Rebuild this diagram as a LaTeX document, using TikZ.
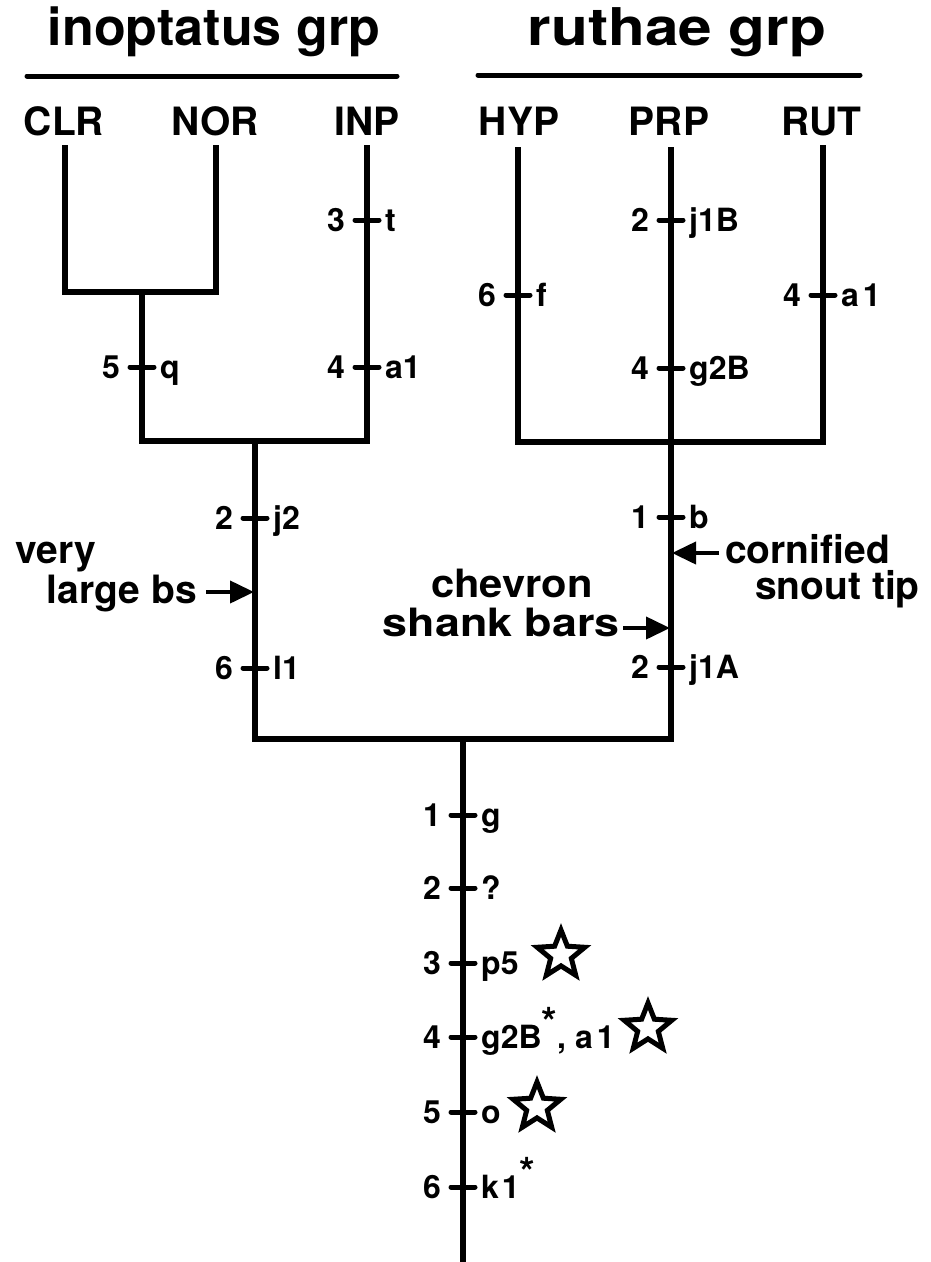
\documentclass[tikz,border=0pt]{standalone}
\usepackage{fontspec}
\setmainfont{TeX Gyre Heros}
\usetikzlibrary{arrows.meta,shapes.geometric}
\begin{document}
\begin{tikzpicture}[x=1pt,y=-1pt,
  branch/.style={line width=5.5pt, line join=miter, line cap=butt},
  rulebar/.style={line width=5pt, line cap=round},
  tickline/.style={line width=5pt, line cap=round},
  titletext/.style={inner sep=0pt, font=\fontsize{52}{60}\selectfont\bfseries},
  taxon/.style={inner sep=0pt, font=\fontsize{39}{46}\selectfont\bfseries},
  ticklab/.style={inner sep=0pt, font=\fontsize{32}{36}\selectfont\bfseries},
  ann/.style={inner sep=0pt, font=\fontsize{39}{46}\selectfont\bfseries},
  annarrow/.style={line width=4pt, -{Triangle[length=24pt,width=22pt]}},
  starmark/.style={draw, star, star points=5, star point ratio=2.3, line width=5pt, minimum size=50pt, inner sep=0pt}
]
\useasboundingbox (0,0) rectangle (930,1262);

\newcommand\charmark[5]{%
  \coordinate (#1) at (#2,#3);
  \draw[tickline] ([xshift=-12pt]#1) -- ([xshift=12pt]#1);
  \node[ticklab, anchor=base east] (#1-l) at ([shift={(-22,11.5)}]#1) {#4};
  \node[ticklab, anchor=base west] (#1-r) at ([shift={(18,11.5)}]#1) {#5};
}
\newcommand\astsup{\raisebox{12pt}{\fontsize{40}{40}\selectfont\bfseries *}}

% group titles
\node[titletext, anchor=base] (inop) at (214,45) {inoptatus grp};
\node[titletext, anchor=base] (ruth) at (677,45) {\scalebox{1.16}[1]{ruthae grp}};
\coordinate (u1a) at (27,76); \coordinate (u1b) at (397,76);
\coordinate (u2a) at (478,75); \coordinate (u2b) at (860,75);
\draw[rulebar] (u1a) -- (u1b);
\draw[rulebar] (u2a) -- (u2b);

% taxa
\node[taxon, anchor=base] (CLR) at (64,135) {CLR};
\node[taxon, anchor=base] (NOR) at (215,135) {NOR};
\node[taxon, anchor=base] (INP) at (367,135) {INP};
\node[taxon, anchor=base] (HYP) at (519,135) {HYP};
\node[taxon, anchor=base] (PRP) at (669,135) {PRP};
\node[taxon, anchor=base] (RUT) at (821,135) {RUT};

\coordinate (tCLR) at (65,145);
\coordinate (tNOR) at (216,145);
\coordinate (tINP) at (367,145);
\coordinate (tHYP) at (518,147);
\coordinate (tPRP) at (671,147);
\coordinate (tRUT) at (823,145);
\coordinate (nCN) at (142,292);
\coordinate (nINO) at (255,441);
\coordinate (nRUT) at (671,442);
\coordinate (root) at (463,739);
\coordinate (base) at (463,1262);

% tree
\draw[branch] (tCLR) |- (nCN) -| (tNOR);
\draw[branch] (nCN) |- (nINO) -| (tINP);
\draw[branch] (tHYP) |- (nRUT) -| (tRUT);
\draw[branch] (tPRP) -- (nRUT);
\draw[branch] (nINO) |- (root) -| (nRUT);
\draw[branch] (root) -- (base);

% character marks
\charmark{mINPa}{367}{220}{3}{t}
\charmark{mINPb}{367}{367}{4}{a1}
\charmark{mCN}{142}{367}{5}{q}
\charmark{mHYP}{518}{295}{6}{f}
\charmark{mPRPa}{671}{220}{2}{j1B}
\charmark{mPRPb}{671}{368}{4}{g2B}
\charmark{mRUT}{823}{295}{4}{a\kern4pt1}
\charmark{mINOa}{255}{518}{2}{j2}
\charmark{mINOb}{255}{668}{6}{l1}
\charmark{mRUa}{671}{517}{1}{b}
\charmark{mRUb}{671}{667}{2}{j1A}
\charmark{mR1}{463}{815}{1}{g}
\charmark{mR2}{463}{888}{2}{?}
\charmark{mR3}{463}{963}{3}{p5}
\charmark{mR4}{463}{1037}{4}{g2B\astsup, a\kern4pt1}
\charmark{mR5}{463}{1112}{5}{o}
\charmark{mR6}{463}{1187}{6}{k\kern3pt1\astsup}

% stars
\node[starmark] (star1) at (561,955) {};
\node[starmark] (star2) at (648,1028) {};
\node[starmark] (star3) at (537,1107) {};

% annotations
\node[ann, anchor=base west] (very) at (15,563) {very};
\node[ann, anchor=base east] (large) at (197,603) {large bs};
\coordinate (aINO) at (255,592);
\draw[annarrow, shorten >=1pt] ([xshift=9pt]large.east |- aINO) -- (aINO);

\node[ann, anchor=base] (chev) at (512,597) {\scalebox{1.07}[1]{chevron}};
\node[ann, anchor=base east] (shank) at (620,636) {\scalebox{1.15}[1]{shank bars}};
\coordinate (aSH) at (671,628);
\draw[annarrow, shorten >=1pt] ([xshift=3pt]shank.east |- aSH) -- (aSH);

\node[ann, anchor=base west] (corn) at (725,563) {cornified};
\node[ann, anchor=base east] (snout) at (920,599) {snout tip};
\coordinate (aCO) at (671,553);
\draw[annarrow, shorten >=1pt] ([xshift=-6pt]corn.west |- aCO) -- (aCO);
\end{tikzpicture}
\end{document}
